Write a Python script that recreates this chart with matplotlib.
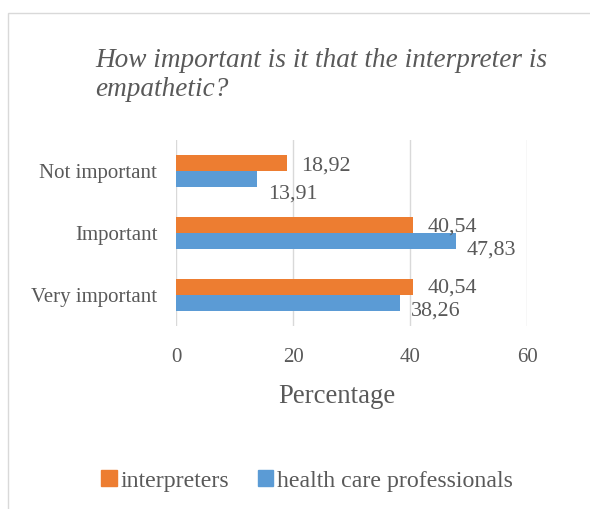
import matplotlib.pyplot as plt
from matplotlib.patches import Rectangle
import numpy as np

categories = ['Very important', 'Important', 'Not important']
interpreters = [40.54, 40.54, 18.92]
professionals = [38.26, 47.83, 13.91]
series_names = ['interpreters', 'health care professionals']
x_ticks = [0, 20, 40, 60]

orange = '#ED7D31'
blue = '#5B9BD5'
text_gray = '#595959'

plt.rcParams['font.family'] = ['Liberation Serif', 'DejaVu Serif']

W, H = 590, 509
fig = plt.figure(figsize=(W / 100, H / 100), dpi=100)
ax = fig.add_axes([176 / W, 1 - 326 / H, (527 - 176) / W, (326 - 140) / H])

# outer chart border
fig.patches.append(Rectangle((8 / W, -0.1), 1.2, 1 - 13 / H + 0.1,
                             transform=fig.transFigure, fill=False,
                             edgecolor='#D9D9D9', linewidth=1))

y = np.arange(len(categories))
h = 0.258
bars_o = ax.barh(y + h / 2, interpreters, height=h, color=orange, label=series_names[0])
bars_b = ax.barh(y - h / 2, professionals, height=h, color=blue, label=series_names[1])

# vertical nudges of the value labels (points), same order as categories
dy_o = [-1.1, -1.4, -2.2]
dy_b = [-5.8, -6.5, -10.8]

for rect, v, dy in zip(bars_o, interpreters, dy_o):
    ax.annotate(f'{v:.2f}'.replace('.', ','), (v, rect.get_y() + rect.get_height() / 2),
                xytext=(10.5, dy), textcoords='offset points', va='center', ha='left',
                fontsize=15.8, color=text_gray)
for rect, v, dy in zip(bars_b, professionals, dy_b):
    ax.annotate(f'{v:.2f}'.replace('.', ','), (v, rect.get_y() + rect.get_height() / 2),
                xytext=(8, dy), textcoords='offset points', va='center', ha='left',
                fontsize=15.8, color=text_gray)

ax.set_xlim(0, 60)
ax.set_ylim(-0.5, 2.5)
ax.set_xticks(x_ticks)
ax.set_yticks(y)
ax.set_yticklabels(categories)
ax.tick_params(axis='both', length=0, labelsize=15, labelcolor=text_gray)
ax.tick_params(axis='x', pad=16)
ax.tick_params(axis='y', pad=13.5)
ax.grid(axis='x', color='#D9D9D9', linewidth=1)
ax.set_axisbelow(True)
for s in ax.spines.values():
    s.set_visible(False)

ax.set_xlabel('Percentage', fontsize=19.3, color=text_gray, va='center')
ax.xaxis.set_label_coords((337 - 176) / 351, (326 - 397) / 186)

fig.text(95 / W, 1 - 75 / H, 'How important is it that the interpreter is\nempathetic?',
         fontsize=19.6, style='italic', color=text_gray, va='center', ha='left',
         linespacing=1.24)

handles = [Rectangle((0, 0), 1, 1, color=orange), Rectangle((0, 0), 1, 1, color=blue)]
fig.legend(handles, series_names, loc='center', bbox_to_anchor=(307 / W, 1 - 481 / H),
           ncol=2, frameon=False, fontsize=17.2, labelcolor=text_gray,
           handlelength=0.66, handleheight=0.66, handletextpad=0.15, columnspacing=1.2)

fig.savefig('out.png', dpi=100)
